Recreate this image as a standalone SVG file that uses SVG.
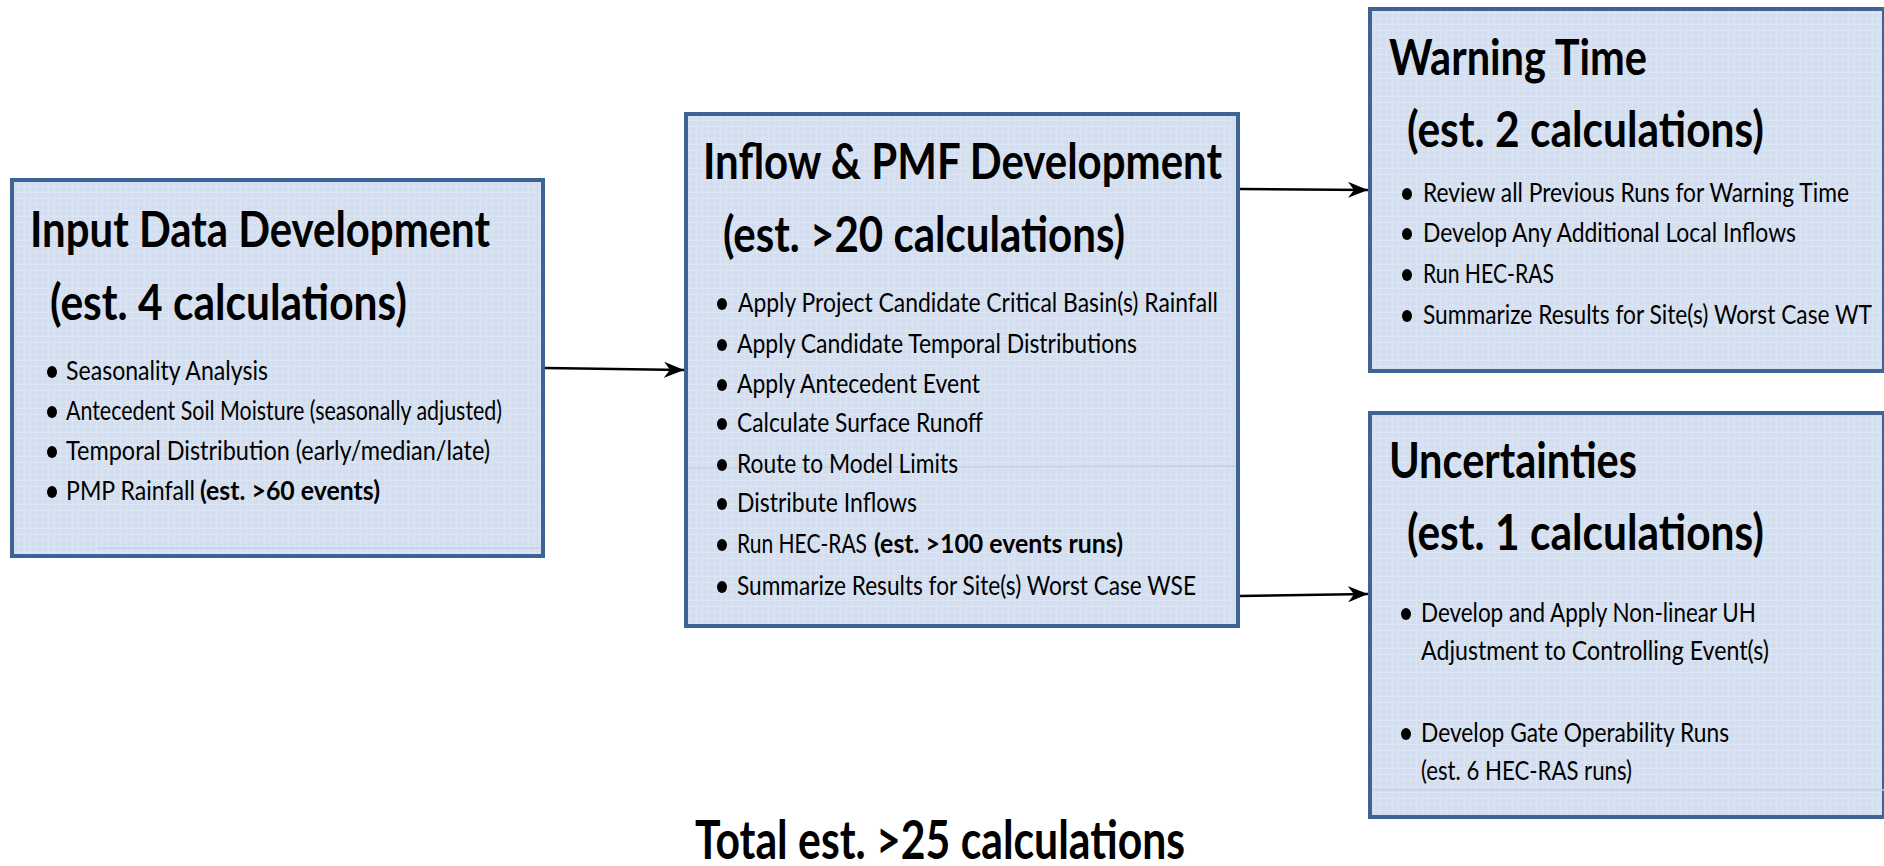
<svg xmlns="http://www.w3.org/2000/svg" width="1884" height="866" viewBox="0 0 1884 866">
<defs>
<pattern id="grid" width="6" height="6" patternUnits="userSpaceOnUse">
<rect width="6" height="6" fill="#d3dff0"/>
<path d="M0 0.5H6M0.5 0V6" stroke="#dbe5f3" stroke-width="1"/>
</pattern>
<marker id="arr" viewBox="0 0 20 16" refX="20" refY="8" markerWidth="20" markerHeight="16" markerUnits="userSpaceOnUse" orient="auto">
<path d="M0 0 L20 8 L0 16 L6 8 Z" fill="#000"/>
</marker>
<style>
.box{fill:url(#grid);stroke:#3e6395;stroke-width:4}
.t{font-family:Lato,"Liberation Sans",sans-serif;font-weight:700;font-size:50px;fill:#000}
.b{font-family:Lato,"Liberation Sans",sans-serif;font-size:26.5px;fill:#000}
.bb{font-family:Lato,"Liberation Sans",sans-serif;font-weight:700;font-size:26.5px;fill:#000}
.tot{font-family:Lato,"Liberation Sans",sans-serif;font-weight:700;font-size:53px;fill:#000}
.dot{fill:#000}
.faint{stroke:#c4d2e6;stroke-width:1.5}
.con{stroke:#000;stroke-width:2.5;fill:none}
</style>
</defs>
<rect width="1884" height="866" fill="#fff"/>

<g id="input">
<rect class="box" x="12" y="180" width="531" height="376"/>
<line class="faint" x1="97" y1="548" x2="541" y2="548"/>
<text class="t" x="30" y="247" textLength="460" lengthAdjust="spacingAndGlyphs">Input Data Development</text>
<text class="t" x="50" y="320" textLength="357" lengthAdjust="spacingAndGlyphs">(est. 4 calculations)</text>
<ellipse class="dot" cx="52" cy="372" rx="5" ry="6"/>
<text class="b" x="66" y="380" textLength="202" lengthAdjust="spacingAndGlyphs">Seasonality Analysis</text>
<ellipse class="dot" cx="52" cy="412" rx="5" ry="6"/>
<text class="b" x="66" y="420" textLength="436" lengthAdjust="spacingAndGlyphs">Antecedent Soil Moisture (seasonally adjusted)</text>
<ellipse class="dot" cx="52" cy="452" rx="5" ry="6"/>
<text class="b" x="66" y="460" textLength="424" lengthAdjust="spacingAndGlyphs">Temporal Distribution (early/median/late)</text>
<ellipse class="dot" cx="52" cy="492" rx="5" ry="6"/>
<text class="b" x="66" y="500" textLength="129" lengthAdjust="spacingAndGlyphs">PMP Rainfall</text>
<text class="bb" x="200" y="500" textLength="180" lengthAdjust="spacingAndGlyphs">(est. &gt;60 events)</text>
</g>

<g id="inflow">
<rect class="box" x="686" y="114" width="552" height="512"/>
<line class="faint" x1="688" y1="468" x2="1236" y2="466"/>
<text class="t" x="703" y="179" textLength="519" lengthAdjust="spacingAndGlyphs">Inflow &amp; PMF Development</text>
<text class="t" x="723" y="252" textLength="402" lengthAdjust="spacingAndGlyphs">(est. &gt;20 calculations)</text>
<ellipse class="dot" cx="722" cy="304" rx="5" ry="6"/>
<text class="b" x="738" y="312" textLength="480" lengthAdjust="spacingAndGlyphs">Apply Project Candidate Critical Basin(s) Rainfall</text>
<ellipse class="dot" cx="722" cy="345" rx="5" ry="6"/>
<text class="b" x="737" y="353" textLength="400" lengthAdjust="spacingAndGlyphs">Apply Candidate Temporal Distributions</text>
<ellipse class="dot" cx="722" cy="385" rx="5" ry="6"/>
<text class="b" x="737" y="393" textLength="243" lengthAdjust="spacingAndGlyphs">Apply Antecedent Event</text>
<ellipse class="dot" cx="722" cy="424" rx="5" ry="6"/>
<text class="b" x="737" y="432" textLength="246" lengthAdjust="spacingAndGlyphs">Calculate Surface Runoff</text>
<ellipse class="dot" cx="722" cy="465" rx="5" ry="6"/>
<text class="b" x="737" y="473" textLength="221" lengthAdjust="spacingAndGlyphs">Route to Model Limits</text>
<ellipse class="dot" cx="722" cy="504" rx="5" ry="6"/>
<text class="b" x="737" y="512" textLength="180" lengthAdjust="spacingAndGlyphs">Distribute Inflows</text>
<ellipse class="dot" cx="722" cy="545" rx="5" ry="6"/>
<text class="b" x="737" y="553" textLength="130" lengthAdjust="spacingAndGlyphs">Run HEC-RAS</text>
<text class="bb" x="874" y="553" textLength="249" lengthAdjust="spacingAndGlyphs">(est. &gt;100 events runs)</text>
<ellipse class="dot" cx="722" cy="587" rx="5" ry="6"/>
<text class="b" x="737" y="595" textLength="459" lengthAdjust="spacingAndGlyphs">Summarize Results for Site(s) Worst Case WSE</text>
</g>

<g id="warning">
<rect class="box" x="1370" y="9" width="514" height="362"/>
<text class="t" x="1389" y="75" textLength="258" lengthAdjust="spacingAndGlyphs">Warning Time</text>
<text class="t" x="1407" y="147" textLength="357" lengthAdjust="spacingAndGlyphs">(est. 2 calculations)</text>
<ellipse class="dot" cx="1407" cy="194" rx="5" ry="6"/>
<text class="b" x="1423" y="202" textLength="426" lengthAdjust="spacingAndGlyphs">Review all Previous Runs for Warning Time</text>
<ellipse class="dot" cx="1407" cy="234" rx="5" ry="6"/>
<text class="b" x="1423" y="242" textLength="373" lengthAdjust="spacingAndGlyphs">Develop Any Additional Local Inflows</text>
<ellipse class="dot" cx="1407" cy="275" rx="5" ry="6"/>
<text class="b" x="1423" y="283" textLength="131" lengthAdjust="spacingAndGlyphs">Run HEC-RAS</text>
<ellipse class="dot" cx="1407" cy="316" rx="5" ry="6"/>
<text class="b" x="1423" y="324" textLength="449" lengthAdjust="spacingAndGlyphs">Summarize Results for Site(s) Worst Case WT</text>
</g>

<g id="uncertainties">
<rect class="box" x="1370" y="413" width="514" height="404"/>
<line class="faint" x1="1372" y1="790" x2="1884" y2="790"/>
<text class="t" x="1389" y="478" textLength="248" lengthAdjust="spacingAndGlyphs">Uncertainties</text>
<text class="t" x="1407" y="550" textLength="357" lengthAdjust="spacingAndGlyphs">(est. 1 calculations)</text>
<ellipse class="dot" cx="1406" cy="614" rx="5" ry="6"/>
<text class="b" x="1421" y="622" textLength="335" lengthAdjust="spacingAndGlyphs">Develop and Apply Non-linear UH</text>
<text class="b" x="1421" y="660" textLength="348" lengthAdjust="spacingAndGlyphs">Adjustment to Controlling Event(s)</text>
<ellipse class="dot" cx="1406" cy="734" rx="5" ry="6"/>
<text class="b" x="1421" y="742" textLength="308" lengthAdjust="spacingAndGlyphs">Develop Gate Operability Runs</text>
<text class="b" x="1421" y="780" textLength="211" lengthAdjust="spacingAndGlyphs">(est. 6 HEC-RAS runs)</text>
</g>

<g id="connectors">
<line class="con" x1="545" y1="368" x2="684" y2="370" marker-end="url(#arr)"/>
<line class="con" x1="1240" y1="189" x2="1368" y2="190" marker-end="url(#arr)"/>
<line class="con" x1="1240" y1="596" x2="1368" y2="594" marker-end="url(#arr)"/>
</g>

<g id="total">
<text class="tot" x="695" y="859" textLength="490" lengthAdjust="spacingAndGlyphs">Total est. &gt;25 calculations</text>
</g>
</svg>
